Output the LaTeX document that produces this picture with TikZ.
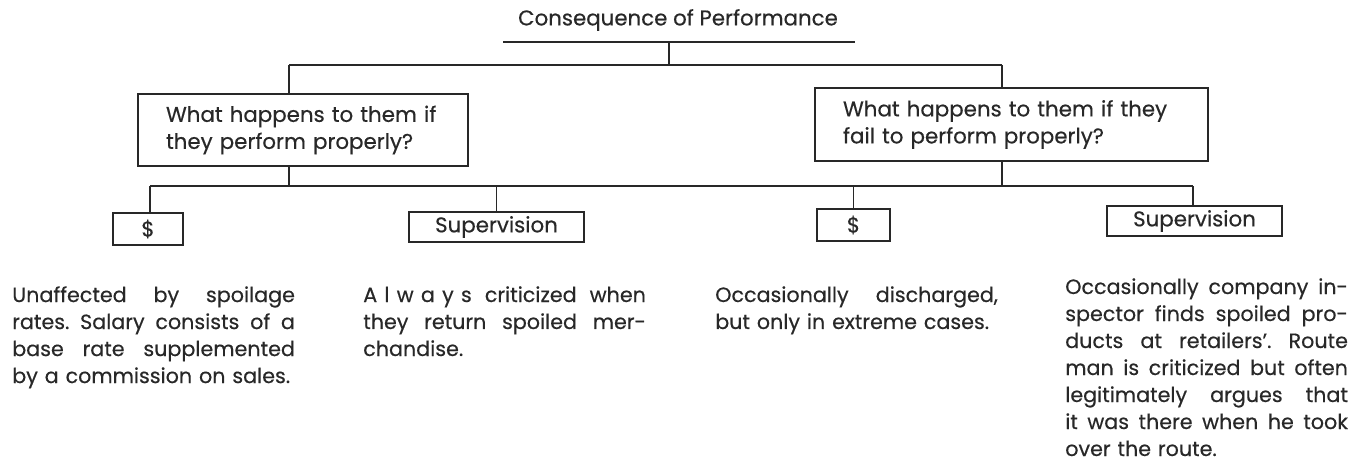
\documentclass[tikz,border=0pt]{standalone}
\usepackage{fontspec}
\setmainfont{Poppins}[FakeBold=0.4]
\definecolor{ink}{RGB}{40,40,40}
\newcommand\jl[1]{\makebox[212pt][s]{\spaceskip=\fontdimen2\font plus 1fil\xspaceskip=\spaceskip\relax #1}\\}
\newcommand\lastl[1]{\mbox{#1}}
\begin{document}
\frenchspacing
\begin{tikzpicture}[x=0.75pt,y=-0.75pt,
  every node/.style={font=\fontsize{16}{20.25}\selectfont, text=ink},
  qbox/.style={draw=ink, line width=1.3pt, inner xsep=21pt, inner ysep=0pt, align=left},
  sbox/.style={draw=ink, line width=1.3pt, inner sep=0pt},
  para/.style={anchor=north west, inner sep=0pt, text width=212pt, align=left,
    font=\fontsize{15.5}{20.25}\selectfont},
  link/.style={draw=ink, line width=1.3pt}]
\useasboundingbox (0,0) rectangle (1367,461);
% title
\node (ttl) at (678,20) {Consequence of Performance};
\coordinate (ul-l) at (503,42);
\coordinate (ul-r) at (855,42);
\coordinate (ul-m) at (669,42);
\coordinate (j0) at (669,65);
\coordinate (j1) at (289,65);
\coordinate (j2) at (1002,65);
% question boxes
\node[qbox, text width=205.5pt, minimum height=54pt] (q1) at (303,130)
  {What happens to them if\\they perform properly?};
\node[qbox, text width=252.75pt, minimum height=54.75pt] (q2) at (1011.5,124.5)
  {What happens to them if they\\fail to perform properly?};
% bottom bar
\coordinate (b1) at (150,186);
\coordinate (b2) at (1193,186);
% small boxes
\node[sbox, minimum width=52.5pt, minimum height=23.5pt] (d1) at (148,229) {\$};
\node[sbox, minimum width=131pt, minimum height=23pt] (s1) at (496.5,227) {Supervision};
\node[sbox, minimum width=55pt, minimum height=24pt] (d2) at (853.5,225) {\$};
\node[sbox, minimum width=131pt, minimum height=23pt] (s2) at (1194.5,221) {Supervision};
% connectors
\draw[link] (ul-l) -- (ul-r);
\draw[link] (ul-m) -- (j0);
\draw[link] (j1) -- (j2);
\draw[link] (j1) -- (j1 |- q1.north);
\draw[link] (j2) -- (j2 |- q2.north);
\draw[link] (j1 |- q1.south) -- (j1 |- b1);
\draw[link] (j2 |- q2.south) -- (j2 |- b1);
\draw[link] (b1) -- (b2);
\draw[link] (b1) -- (b1 |- d1.north);
\draw[link] (s1.north |- b1) -- (s1.north);
\draw[link] (d2.north |- b1) -- (d2.north);
\draw[link] (b2) -- (b2 |- s2.north);
% descriptions
\node[para] (t1) at (12,286) {%
  \jl{Unaffected by spoilage}
  \jl{rates. Salary consists of a}
  \jl{base rate supplemented}
  \lastl{by a commission on sales.}};
\node[para] (t2) at (363,286) {%
  \jl{{\addfontfeature{LetterSpace=35}Always} criticized when}
  \jl{they return spoiled mer-}
  \lastl{chandise.}};
\node[para] (t3) at (715,286) {%
  \jl{Occasionally discharged,}
  \lastl{but only in extreme cases.}};
\node[para] (t4) at (1065,278) {%
  \jl{Occasionally company in-}
  \jl{spector finds spoiled pro-}
  \jl{ducts at retailers'. Route}
  \jl{man is criticized but often}
  \jl{legitimately argues that}
  \jl{it was there when he took}
  \lastl{over the route.}};
\end{tikzpicture}
\end{document}
